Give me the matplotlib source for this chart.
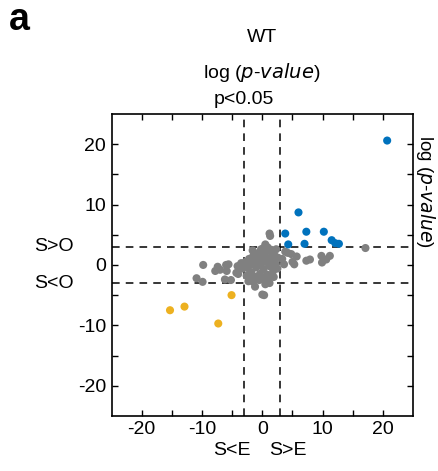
import matplotlib.pyplot as plt

plt.rcParams['font.family'] = ['Liberation Sans', 'DejaVu Sans']

# significant, S>E and S>O
blue_x = [20.7, 6.0, 3.8, 7.3, 10.2, 4.3, 7.0, 11.5, 12.1, 12.7]
blue_y = [20.6, 8.7, 5.2, 5.5, 5.5, 3.4, 3.5, 4.1, 3.6, 3.5]

# significant, S<E and S<O
orange_x = [-15.3, -12.9, -5.1, -7.3]
orange_y = [-7.5, -6.9, -5.0, -9.7]

# not significant
gray_x = [-9.8, -10.9, -9.9, -7.8, -7.4, -7.0, -6.0, -5.6, -5.9, -6.2, -5.2, -4.1, -4.3, -4.0, -3.5, -3.3,
          -1.2, -1.5, 0.0, 0.3, 0.8, 1.2, -0.5,
          1.3, 1.2, 0.5, 0.2, -0.3, 1.5,
          4.2, 4.8, 5.7, 5.3, 5.0, 3.6, 3.3, 3.8, 7.3, 7.9, 9.8, 11.2, 9.9, 10.6, 17.1,
          -2.8, -2.5, -2.2, -2.0, -1.8, -1.5, -1.3, -1.0, -0.8, -0.6, -0.4, -0.2, 0.0, 0.2, 0.4, 0.6,
          0.8, 1.0, 1.2, 1.4, 1.6, 1.8, 2.0, 2.2, 2.5, 2.6, -2.6, -1.9, -1.1, 0.1, 1.0, 1.9, -1.6,
          -0.2, 0.9, 2.3, -3.0, -2.3, 0.5, 1.5]
gray_y = [0.0, -2.2, -2.8, -1.0, -0.3, -0.8, 0.0, 0.1, -1.0, -2.4, -2.5, -0.2, -1.3, -1.5, 0.3, -0.6,
          -3.6, -2.8, -4.9, -5.0, -2.8, -3.0, -2.5,
          4.8, 5.2, 3.4, 2.8, 2.2, 2.5,
          2.0, 1.8, 1.4, 0.1, 0.5, 0.1, 1.0, 2.2, 0.7, 0.9, 1.5, 1.5, 0.4, 0.9, 2.8,
          0.5, -0.5, 1.0, 0.0, -1.2, 1.5, 0.6, -0.4, 1.9, 0.9, -1.5, 0.2, 1.3, -0.7, 2.0, 0.5,
          -1.6, 1.1, -0.2, 2.2, 0.8, -1.0, 1.6, 0.2, -0.6, 1.2, -1.8, -2.2, -2.0, -2.2, -2.4, -2.0, 2.4,
          2.6, 2.9, 2.6, -0.2, -2.7, -3.2, -1.8]

threshold = 3
ticks = [-20, -15, -10, -5, 0, 5, 10, 15, 20]
tick_labels = ['-20', '', '-10', '', '0', '', '10', '', '20']

fig = plt.figure(figsize=(4.39, 4.71), dpi=100)
ax = fig.add_axes([0.254, 0.117, 0.687, 0.641])

ax.scatter(gray_x, gray_y, s=34, color='#808080', edgecolors='none', zorder=2)
ax.scatter(blue_x, blue_y, s=34, color='#0072BD', edgecolors='none', zorder=3)
ax.scatter(orange_x, orange_y, s=34, color='#EDB120', edgecolors='none', zorder=3)

for t in (-threshold, threshold):
    ax.axvline(t, color='black', lw=1.1, ls=(0, (5, 4)), zorder=1)
    ax.axhline(t, color='black', lw=1.1, ls=(0, (5, 4)), zorder=1)

ax.set_xlim(-25, 25)
ax.set_ylim(-25, 25)
ax.set_xticks(ticks)
ax.set_xticklabels(tick_labels)
ax.set_yticks(ticks)
ax.set_yticklabels(tick_labels)
ax.tick_params(direction='in', length=4, width=1, labelsize=14,
               top=True, right=True, pad=4)
for sp in ax.spines.values():
    sp.set_linewidth(1.2)

# axis annotations
fs = 14
ax.text(-5, -30.8, 'S<E', ha='center', va='center', fontsize=fs)
ax.text(4.2, -30.8, 'S>E', ha='center', va='center', fontsize=fs)
ax.text(-34.5, 3, 'S>O', ha='center', va='center', fontsize=fs)
ax.text(-34.5, -3, 'S<O', ha='center', va='center', fontsize=fs)

fig.text(426 / 439, 1 - 191 / 471, 'log ($\\it{p}$-$\\it{value}$)', rotation=-90,
         ha='center', va='center', fontsize=13.5)
fig.text(262 / 439, 1 - 37 / 471, 'WT', ha='center', va='center', fontsize=fs)
fig.text(262 / 439, 1 - 72 / 471, 'log ($\\it{p}$-$\\it{value}$)', ha='center', va='center', fontsize=fs)
fig.text(244 / 439, 1 - 100 / 471, 'p<0.05', ha='center', va='center', fontsize=fs)
fig.text(9 / 439, 1 - 20 / 471, 'a', ha='left', va='center', fontsize=27, fontweight='bold')

fig.savefig('out.png', dpi=100)
